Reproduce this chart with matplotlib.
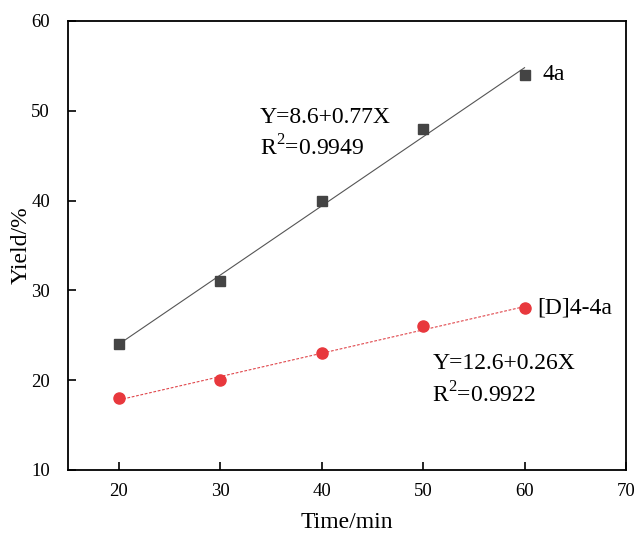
import matplotlib
matplotlib.use("Agg")
import matplotlib.pyplot as plt
import numpy as np

plt.rcParams['font.family'] = ['Liberation Serif', 'DejaVu Serif']
plt.rcParams['mathtext.fontset'] = 'custom'
plt.rcParams['mathtext.rm'] = 'Liberation Serif'

time_min = [20, 30, 40, 50, 60]
yield_4a = [24, 31, 40, 48, 54]
yield_d4a = [18, 20, 23, 26, 28]

fit_4a = (8.6, 0.77)
fit_d4a = (12.6, 0.26)

fig = plt.figure(figsize=(6.35, 5.35), dpi=100)
ax = fig.add_axes([68/635, 1 - 470/535, (626-68)/635, (470-21)/535])

xf = np.array([time_min[0], time_min[-1]])
ax.plot(xf, fit_4a[0] + fit_4a[1]*xf, color='#555555', lw=0.8, zorder=2)
ax.plot(xf, fit_d4a[0] + fit_d4a[1]*xf, color='#e0474c', lw=0.8, ls=(0, (2.5, 1.5)), zorder=2)

ax.plot(time_min, yield_4a, ls='none', marker='s', ms=7, color='#444444', zorder=3)
ax.plot(time_min, yield_d4a, ls='none', marker='o', ms=8, color='#e8383d', zorder=3)

ax.set_xlim(15, 70)
ax.set_ylim(10, 60)
ax.set_xticks([20, 30, 40, 50, 60, 70])
ax.set_yticks([10, 20, 30, 40, 50, 60])
ax.tick_params(direction='in', length=6, width=1.2, labelsize=13.5, top=False, right=False)
ax.tick_params(axis='y', pad=13)
ax.tick_params(axis='x', pad=9)
for s in ax.spines.values():
    s.set_linewidth(1.3)

ax.set_xlabel('Time/min', fontsize=17, labelpad=9)
ax.set_ylabel('Yield/%', fontsize=17, labelpad=0)

fs = 17
ax.text(61.8, 54.0, '4a', fontsize=fs, va='center', ha='left')
ax.text(61.3, 28.0, '[D]4-4a', fontsize=fs, va='center', ha='left')
ax.text(33.9, 49.2, 'Y=8.6+0.77X', fontsize=fs, va='center', ha='left')
ax.text(33.9, 45.9, 'R$^{2}$=0.9949', fontsize=fs, va='center', ha='left')
ax.text(50.9, 21.9, 'Y=12.6+0.26X', fontsize=fs, va='center', ha='left')
ax.text(50.9, 18.35, 'R$^{2}$=0.9922', fontsize=fs, va='center', ha='left')

fig.savefig('out.png', dpi=100)
